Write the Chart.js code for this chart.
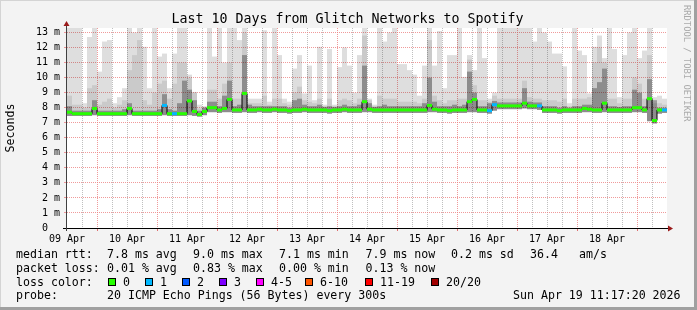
<!DOCTYPE html>
<html>
<head>
<meta charset="utf-8">
<title>Glitch Networks to Spotify</title>
<script src="https://cdn.jsdelivr.net/npm/chart.js@4.4.1/dist/chart.umd.min.js"></script>
<style>
    html, body { margin: 0; padding: 0; background: #f3f3f3; }
    #wrap { width: 697px; height: 310px; }
</style>
</head>
<body>
<div id="wrap"><canvas id="smokeChart" width="697" height="310"></canvas></div>
<script>
// Chart data (one column = 2 hours, 120 columns = 10 days from 09 Apr 12:00)
const dayLabels = ['09 Apr', '10 Apr', '11 Apr', '12 Apr', '13 Apr', '14 Apr', '15 Apr', '16 Apr', '17 Apr', '18 Apr'];

// median rtt in ms
const medianRtt = [
    7.7, 7.6, 7.6, 7.6, 7.6, 7.95, 7.6, 7.6, 7.6, 7.6,
    7.6, 7.6, 7.95, 7.6, 7.6, 7.6, 7.6, 7.6, 7.6, 8.15,
    7.6, 7.6, 7.6, 7.6, 8.45, 7.75, 7.55, 7.75, 8.0, 8.0,
    7.85, 7.95, 8.55, 7.85, 7.85, 8.95, 7.85, 7.85, 7.9, 7.85,
    7.85, 7.9, 7.85, 7.85, 7.8, 7.85, 7.85, 7.9, 7.85, 7.85,
    7.85, 7.85, 7.8, 7.85, 7.85, 7.9, 7.85, 7.85, 7.85, 8.4,
    7.9, 7.85, 7.85, 7.85, 7.85, 7.85, 7.85, 7.85, 7.85, 7.85,
    7.85, 7.85, 8.15, 7.9, 7.85, 7.85, 7.8, 7.85, 7.85, 7.85,
    8.4, 8.55, 7.85, 7.85, 7.8, 8.2, 8.12, 8.12, 8.12, 8.12,
    8.12, 8.3, 8.12, 8.12, 8.12, 7.85, 7.85, 7.85, 7.8, 7.85,
    7.85, 7.85, 7.85, 7.95, 7.9, 7.85, 7.85, 8.3, 7.85, 7.85,
    7.85, 7.85, 7.85, 8.0, 8.0, 7.85, 8.6, 7.15, 7.85, 7.85
];

// number of lost pings class (index into lossColors)
const lossClass = [
    0, 0, 0, 0, 0, 0, 0, 0, 0, 0,
    0, 0, 0, 0, 0, 0, 0, 0, 0, 1,
    0, 1, 0, 0, 0, 0, 0, 0, 0, 0,
    0, 0, 0, 0, 0, 0, 0, 0, 0, 0,
    0, 0, 0, 0, 0, 0, 0, 0, 0, 0,
    0, 0, 0, 0, 0, 0, 0, 0, 0, 0,
    0, 0, 0, 0, 0, 0, 0, 0, 0, 0,
    0, 0, 0, 0, 0, 0, 0, 0, 0, 0,
    0, 0, 0, 0, 1, 1, 0, 0, 0, 0,
    0, 0, 0, 0, 1, 0, 0, 0, 0, 0,
    0, 0, 0, 0, 0, 0, 0, 0, 0, 0,
    0, 0, 0, 0, 0, 0, 0, 0, 0, 1
];

// smoke: fastest ping, and tops of the dark / mid / light bands
const smokeMin = [
    7.45, 7.45, 7.45, 7.45, 7.45, 7.5, 7.45, 7.45, 7.45, 7.45,
    7.45, 7.45, 7.5, 7.45, 7.45, 7.45, 7.45, 7.45, 7.45, 7.5,
    7.45, 7.45, 7.45, 7.45, 7.5, 7.45, 7.4, 7.5, 7.7, 7.7,
    7.65, 7.7, 7.7, 7.65, 7.65, 7.7, 7.65, 7.65, 7.7, 7.65,
    7.65, 7.7, 7.65, 7.65, 7.6, 7.65, 7.65, 7.7, 7.65, 7.65,
    7.65, 7.65, 7.6, 7.65, 7.65, 7.7, 7.65, 7.65, 7.65, 7.7,
    7.7, 7.65, 7.65, 7.65, 7.65, 7.65, 7.65, 7.65, 7.65, 7.65,
    7.65, 7.65, 7.7, 7.7, 7.65, 7.65, 7.6, 7.65, 7.65, 7.65,
    7.7, 7.7, 7.65, 7.65, 7.6, 7.8, 7.9, 7.9, 7.9, 7.9,
    7.9, 7.95, 7.9, 7.9, 7.85, 7.65, 7.65, 7.65, 7.6, 7.65,
    7.65, 7.65, 7.65, 7.7, 7.7, 7.65, 7.65, 7.7, 7.65, 7.65,
    7.65, 7.65, 7.65, 7.7, 7.7, 7.65, 7.1, 6.95, 7.6, 7.65
];

const smokeDark = [
    8.1, 7.8, 7.8, 7.8, 7.8, 8.5, 7.8, 7.8, 7.8, 7.8,
    7.8, 7.9, 8.3, 7.8, 7.8, 7.8, 7.8, 7.8, 7.9, 8.9,
    7.9, 7.8, 8.3, 9.8, 9.2, 8.5, 7.8, 8.0, 8.4, 8.4,
    8.1, 8.8, 9.8, 8.1, 8.2, 11.5, 8.2, 8.1, 8.1, 8.1,
    8.1, 8.1, 8.1, 8.1, 8.0, 8.5, 8.6, 8.2, 8.1, 8.1,
    8.2, 8.05, 8.1, 8.05, 8.1, 8.2, 8.1, 8.1, 8.2, 10.8,
    8.3, 8.05, 8.1, 8.2, 8.1, 8.1, 8.1, 8.1, 8.1, 8.1,
    8.1, 8.3, 10.0, 8.4, 8.1, 8.1, 8.1, 8.2, 8.1, 8.2,
    10.4, 9.0, 8.1, 8.1, 8.3, 8.45, 8.35, 8.35, 8.35, 8.35,
    8.35, 9.3, 8.4, 8.35, 8.35, 8.1, 8.1, 8.1, 8.0, 8.1,
    8.0, 8.1, 8.1, 8.2, 8.2, 9.3, 9.7, 10.6, 8.1, 8.1,
    8.05, 8.1, 8.1, 9.2, 9.0, 8.1, 9.9, 8.5, 8.0, 8.0
];

const smokeMid = [
    8.8, 8.2, 8.2, 8.0, 9.3, 9.5, 8.2, 8.4, 8.6, 8.0,
    8.2, 8.5, 10.5, 11.5, 12.5, 8.5, 8.2, 9.0, 9.6, 9.8,
    8.6, 9.6, 11.0, 11.0, 10.0, 9.0, 7.95, 8.05, 9.2, 9.2,
    8.6, 9.6, 11.0, 8.6, 8.6, 13.0, 8.3, 8.3, 8.3, 8.8,
    8.2, 8.6, 8.6, 8.3, 8.2, 9.0, 9.4, 8.5, 8.4, 8.3,
    8.6, 8.1, 8.6, 8.1, 8.5, 8.6, 8.5, 8.3, 8.6, 12.8,
    8.5, 8.1, 8.8, 8.6, 8.6, 8.6, 8.4, 8.4, 8.4, 8.4,
    8.3, 8.6, 12.5, 8.8, 8.5, 8.3, 8.5, 8.5, 8.6, 8.6,
    11.2, 9.5, 8.5, 8.5, 8.4, 8.8, 8.6, 8.6, 8.6, 8.6,
    8.6, 9.8, 8.7, 8.6, 8.6, 8.5, 8.5, 8.5, 8.4, 8.6,
    8.1, 8.6, 8.6, 8.6, 8.7, 11.0, 12.0, 11.0, 8.6, 8.6,
    8.3, 8.6, 8.6, 10.0, 9.6, 8.6, 11.5, 8.3, 8.3, 8.2
];

const smokeMax = [
    13.3, 13.3, 13.3, 8.3, 12.7, 13.3, 10.4, 12.4, 12.5, 8.3,
    8.7, 9.3, 13.3, 13.0, 13.3, 12.05, 9.3, 13.3, 11.4, 11.6,
    9.3, 11.6, 13.3, 13.3, 10.2, 9.05, 8.2, 8.1, 13.3, 11.4,
    13.3, 11.0, 13.3, 13.3, 12.5, 13.3, 8.6, 8.6, 8.6, 13.15,
    8.4, 13.3, 11.5, 8.6, 8.4, 10.6, 11.5, 8.95, 10.8, 8.5,
    12.05, 8.2, 11.9, 8.2, 10.7, 12.0, 10.8, 9.0, 11.5, 13.3,
    8.6, 8.2, 13.3, 12.4, 13.0, 13.3, 10.9, 10.9, 10.5, 10.2,
    8.8, 10.8, 13.3, 10.8, 13.1, 9.3, 11.5, 11.5, 13.3, 10.05,
    11.5, 10.5, 13.3, 11.3, 8.6, 9.0, 13.3, 13.3, 13.3, 13.3,
    13.3, 13.3, 13.3, 12.4, 13.3, 13.0, 12.4, 11.6, 11.6, 10.75,
    8.3, 13.3, 11.8, 11.5, 8.95, 12.05, 12.8, 11.3, 13.3, 11.9,
    8.7, 11.5, 13.0, 13.3, 11.3, 11.8, 13.3, 8.7, 8.8, 8.6
];

// legend
const lossColors = ['#26ff00', '#00b8ff', '#0059ff', '#7e00ff', '#ff00ff', '#ff5500', '#ff0000', '#a10000'];
const lossLabels = ['0', '1', '2', '3', '4-5', '6-10', '11-19', '20/20'];
const rttStats = ['7.8 ms avg', '9.0 ms max', '7.1 ms min', '7.9 ms now', '0.2 ms sd', '36.4', 'am/s'];
const lossStats = ['0.01 % avg', '0.83 % max', '0.00 % min', '0.13 % now'];
const probeText = '20 ICMP Echo Pings (56 Bytes) every 300s';
const stampText = 'Sun Apr 19 11:17:20 2026';
const titleText = 'Last 10 Days from Glitch Networks to Spotify';

const STEP_HOURS = 2;
const MONO = '"DejaVu Sans Mono", "Liberation Mono", monospace';
const MAJOR_GRID = 'rgba(235, 120, 120, 0.75)';
const MINOR_GRID = 'rgba(170, 170, 170, 0.75)';

function colX(i) {
    return i * STEP_HOURS + STEP_HOURS / 2;
}

function bandData(low, high) {
    return low.map((v, i) => ({ x: colX(i), y: [v, high[i]] }));
}

/**
 * Text, frame and axis arrows around the plot (rrdtool look)
 */
const decorPlugin = {
    id: 'decor',
    beforeDraw(chart) {
        const ctx = chart.ctx;
        ctx.save();
        ctx.fillStyle = '#f3f3f3';
        ctx.fillRect(0, 0, chart.width, chart.height);
        const a = chart.chartArea;
        ctx.fillStyle = '#ffffff';
        ctx.fillRect(a.left, a.top, a.right - a.left, a.bottom - a.top);
        ctx.restore();
    },
    afterDraw(chart) {
        const ctx = chart.ctx;
        const a = chart.chartArea;
        ctx.save();

        // axes
        ctx.lineWidth = 1;
        ctx.strokeStyle = '#000000';
        ctx.beginPath();
        ctx.moveTo(a.left - 4, a.bottom + 0.5);
        ctx.lineTo(a.right + 1, a.bottom + 0.5);
        ctx.stroke();
        ctx.strokeStyle = '#404040';
        ctx.beginPath();
        ctx.moveTo(a.left - 0.5, a.bottom + 3);
        ctx.lineTo(a.left - 0.5, a.top - 2);
        ctx.stroke();

        // arrows
        ctx.fillStyle = '#9a1a1a';
        ctx.beginPath();
        ctx.moveTo(a.right + 6, a.bottom + 0.5);
        ctx.lineTo(a.right + 1, a.bottom - 2.5);
        ctx.lineTo(a.right + 1, a.bottom + 3.5);
        ctx.closePath();
        ctx.fill();
        ctx.beginPath();
        ctx.moveTo(a.left - 0.5, a.top - 7);
        ctx.lineTo(a.left - 3.5, a.top - 2);
        ctx.lineTo(a.left + 2.5, a.top - 2);
        ctx.closePath();
        ctx.fill();

        // title
        ctx.fillStyle = '#000000';
        ctx.textBaseline = 'alphabetic';
        ctx.textAlign = 'center';
        ctx.font = '13.3px ' + MONO;
        ctx.fillText(titleText, 347.5, 23);

        // y axis title
        ctx.save();
        ctx.translate(14, (a.top + a.bottom) / 2);
        ctx.rotate(-Math.PI / 2);
        ctx.font = '11.6px ' + MONO;
        ctx.fillText('Seconds', 0, 0);
        ctx.restore();

        // watermark
        ctx.save();
        ctx.translate(684, 5);
        ctx.rotate(Math.PI / 2);
        ctx.textAlign = 'left';
        ctx.fillStyle = '#aaaaaa';
        ctx.font = '8.8px ' + MONO;
        ctx.fillText('RRDTOOL / TOBI OETIKER', 0, 0);
        ctx.restore();

        // legend
        ctx.textAlign = 'left';
        ctx.font = '11.6px ' + MONO;
        ctx.fillStyle = '#000000';
        const colStart = [107, 193, 279, 365.5, 451, 530, 579];
        ctx.fillText('median rtt:', 16, 258);
        rttStats.forEach((t, i) => ctx.fillText(t, colStart[i], 258));
        ctx.fillText('packet loss:', 16, 272);
        lossStats.forEach((t, i) => ctx.fillText(t, colStart[i], 272));
        ctx.fillText('loss color:', 16, 286);
        const boxX = [108, 145, 182, 219, 256, 305, 365, 431];
        lossLabels.forEach((t, i) => {
            ctx.fillStyle = lossColors[i];
            ctx.fillRect(boxX[i], 278, 8, 8);
            ctx.strokeStyle = '#000000';
            ctx.strokeRect(boxX[i] + 0.5, 278.5, 7, 7);
            ctx.fillStyle = '#000000';
            ctx.fillText(t, boxX[i] + 15, 286);
        });
        ctx.fillText('probe:', 16, 299);
        ctx.fillText(probeText, 107, 299);
        ctx.fillText(stampText, 513, 299);

        // frame
        ctx.fillStyle = '#a0a0a0';
        ctx.fillRect(chart.width - 3, 0, 3, chart.height);
        ctx.fillRect(0, chart.height - 3, chart.width, 3);
        ctx.fillStyle = '#d4d4d4';
        ctx.fillRect(0, 0, chart.width - 3, 1);
        ctx.fillRect(0, 0, 1, chart.height - 3);

        ctx.restore();
    }
};

function initializeSmokeChart() {
    const canvas = document.getElementById('smokeChart');
    if (!canvas || typeof Chart === 'undefined') {
        console.error('Chart.js or canvas missing');
        return;
    }

    const bandOpts = {
        type: 'bar',
        grouped: false,
        barPercentage: 1,
        categoryPercentage: 1,
        borderWidth: 0,
        inflateAmount: 0
    };

    new Chart(canvas.getContext('2d'), {
        type: 'bar',
        data: {
            datasets: [
                {
                    type: 'line',
                    label: 'median',
                    data: medianRtt.map((v, i) => ({ x: colX(i), y: v })),
                    stepped: 'middle',
                    borderColor: '#000000',
                    borderWidth: 1,
                    pointStyle: 'line',
                    pointRadius: 2.5,
                    pointBorderWidth: 3,
                    pointBorderColor: lossClass.map(c => lossColors[c]),
                    order: 0
                },
                Object.assign({ label: 'dark', data: bandData(smokeMin, smokeDark), backgroundColor: 'rgba(0, 0, 0, 0.3)', order: 1 }, bandOpts),
                Object.assign({ label: 'mid', data: bandData(smokeMin, smokeMid), backgroundColor: 'rgba(0, 0, 0, 0.085)', order: 2 }, bandOpts),
                Object.assign({ label: 'light', data: bandData(smokeMin, smokeMax), backgroundColor: 'rgba(0, 0, 0, 0.13)', order: 3 }, bandOpts)
            ]
        },
        options: {
            responsive: false,
            animation: false,
            devicePixelRatio: 1,
            events: [],
            layout: { padding: { top: 28, right: 30, bottom: 0, left: 0 } },
            plugins: {
                legend: { display: false },
                tooltip: { enabled: false }
            },
            scales: {
                x: {
                    type: 'linear',
                    min: 0,
                    max: 240,
                    offset: false,
                    afterBuildTicks: function(scale) {
                        const ticks = [];
                        for (let h = 0; h <= 240; h += 6) ticks.push({ value: h });
                        scale.ticks = ticks;
                    },
                    afterFit: function(scale) {
                        scale.height = 82;
                    },
                    border: { display: false, dash: [1, 1] },
                    grid: {
                        offset: false,
                        lineWidth: 1,
                        tickLength: 3,
                        color: function(ctx) {
                            const v = ctx.tick ? ctx.tick.value : 0;
                            if (v === 0 || v === 240) return 'rgba(0,0,0,0)';
                            return v % 24 === 12 ? MAJOR_GRID : MINOR_GRID;
                        },
                        tickColor: function(ctx) {
                            const v = ctx.tick ? ctx.tick.value : 0;
                            return v % 24 === 12 ? '#e07070' : 'rgba(0,0,0,0)';
                        }
                    },
                    ticks: {
                        autoSkip: false,
                        maxRotation: 0,
                        padding: 2,
                        color: '#000000',
                        font: { family: MONO, size: 10 },
                        callback: function(value) {
                            if (value % 24 === 0 && value < 240) return dayLabels[value / 24];
                            return '';
                        }
                    }
                },
                y: {
                    type: 'linear',
                    min: 0,
                    max: 13.3,
                    afterBuildTicks: function(scale) {
                        const ticks = [];
                        for (let k = 0; k <= 26; k++) ticks.push({ value: k / 2 });
                        scale.ticks = ticks;
                    },
                    afterFit: function(scale) {
                        scale.width = 67;
                    },
                    border: { display: false, dash: [1, 1] },
                    grid: {
                        lineWidth: 1,
                        tickLength: 3,
                        color: function(ctx) {
                            const v = ctx.tick ? ctx.tick.value : 0;
                            if (v === 0) return 'rgba(0,0,0,0)';
                            return Number.isInteger(v) ? MAJOR_GRID : MINOR_GRID;
                        }
                    },
                    ticks: {
                        padding: 4,
                        color: '#000000',
                        font: { family: MONO, size: 10 },
                        callback: function(value) {
                            if (!Number.isInteger(value)) return '';
                            return value === 0 ? '0  ' : value + ' m';
                        }
                    }
                }
            }
        },
        plugins: [decorPlugin]
    });
}

initializeSmokeChart();
</script>
</body>
</html>
